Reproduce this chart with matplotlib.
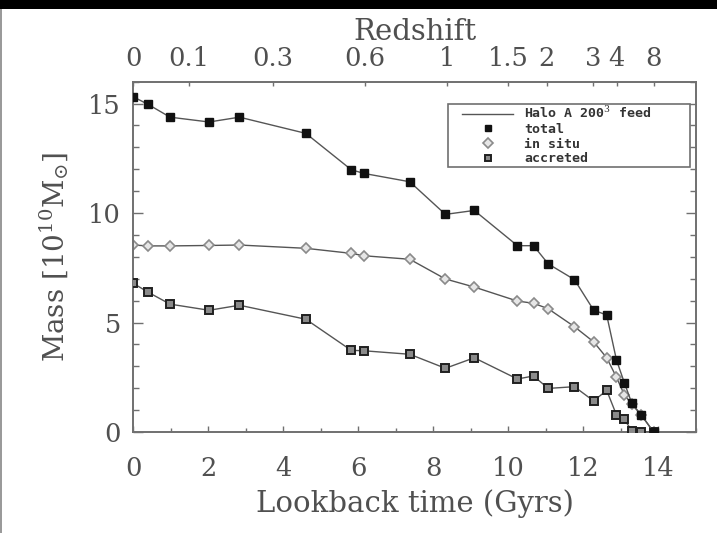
import matplotlib
matplotlib.use('Agg')
import matplotlib.pyplot as plt
from matplotlib.lines import Line2D
from matplotlib.patches import Rectangle
from matplotlib.ticker import MultipleLocator

####################
# DATA
####################

# Lookback time of each snapshot (Gyr)
t_lookback = [0.0, 0.40, 0.98, 2.02, 2.83, 4.60, 5.81, 6.15, 7.37, 8.32, 9.09,
              10.24, 10.67, 11.06, 11.76, 12.27, 12.62, 12.88, 13.09, 13.29,
              13.54, 13.87]

# Stellar mass in units of 1e10 Msun
mass_total = [15.31, 14.96, 14.38, 14.16, 14.38, 13.64, 11.98, 11.81, 11.43,
              9.94, 10.12, 8.51, 8.51, 7.68, 6.96, 5.57, 5.34, 3.29, 2.25,
              1.31, 0.78, 0.0]
mass_insitu = [8.54, 8.50, 8.50, 8.52, 8.54, 8.39, 8.16, 8.05, 7.89, 6.99,
               6.62, 5.98, 5.88, 5.63, 4.81, 4.12, 3.39, 2.50, 1.70, 1.26,
               0.78, 0.0]
mass_accreted = [6.79, 6.38, 5.84, 5.56, 5.79, 5.15, 3.73, 3.71, 3.55, 2.91,
                 3.39, 2.42, 2.56, 1.99, 2.07, 1.42, 1.90, 0.78, 0.58, 0.05,
                 0.0, 0.0]

# Redshift labels for the top axis and their lookback times (Gyr)
z_labels = ['0', '0.1', '0.3', '0.6', '1', '1.5', '2', '3', '4', '8']
z_lookback = [0.0, 1.49, 3.73, 6.18, 8.36, 9.99, 11.02, 12.25, 12.89, 13.87]

legend_labels = ['Halo A 200$^3$ feed', 'total', 'in situ', 'accreted']

####################
# STYLE
####################
txtcol = '#505050'
axcol = '#707070'
linecol = '#555555'
plt.rcParams['font.family'] = 'DejaVu Serif'
plt.rcParams['mathtext.fontset'] = 'dejavuserif'
fs_tick = 18.5
fs_label = 21

####################
# PLOT
####################
fig = plt.figure(figsize=(7.17, 5.33), dpi=100)
ax = fig.add_axes([0.1859, 0.1895, 0.7848, 0.6572])

# black strip along the top and thin border on the left
fig.patches.append(Rectangle((0, 0.983), 1, 0.017, transform=fig.transFigure,
                             facecolor='black', edgecolor='none', zorder=5))
fig.patches.append(Rectangle((0, 0), 0.0025, 0.983, transform=fig.transFigure,
                             facecolor='#9a9a9a', edgecolor='none', zorder=5))

ax.plot(t_lookback, mass_insitu, color=linecol, lw=1.0, marker='D', ms=5.5,
        mfc='#e6e6e6', mec='#8a8a8a', mew=1.2, zorder=2)
ax.plot(t_lookback, mass_accreted, color=linecol, lw=1.0, marker='s', ms=5.5,
        mfc='#8a8a8a', mec='#202020', mew=1.4, zorder=3)
ax.plot(t_lookback, mass_total, color=linecol, lw=1.0, marker='s', ms=6,
        mfc='#111111', mec='#111111', zorder=4)

ax.set_xlim(0, 15)
ax.set_ylim(0, 16)
ax.xaxis.set_major_locator(MultipleLocator(2))
ax.xaxis.set_minor_locator(MultipleLocator(1))
ax.yaxis.set_major_locator(MultipleLocator(5))
ax.yaxis.set_minor_locator(MultipleLocator(1))
ax.tick_params(which='both', direction='in', top=False, right=True,
               colors=axcol, labelcolor=txtcol, labelsize=fs_tick)
ax.tick_params(axis='x', which='major', length=4, width=1, pad=17)
ax.tick_params(axis='x', which='minor', length=3, width=1)
ax.tick_params(axis='y', which='major', length=7, width=1, pad=9)
ax.tick_params(axis='y', which='minor', length=4, width=1)
for sp in ax.spines.values():
    sp.set_color(axcol)
    sp.set_linewidth(1.4)

ax.set_xlabel('Lookback time (Gyrs)', fontsize=fs_label, color=txtcol,
              labelpad=6)
ax.set_ylabel(r'Mass [10$^{10}$M$_{\odot}$]', fontsize=20, color=txtcol,
              labelpad=12)

# redshift axis along the top
axz = ax.twiny()
axz.set_xlim(ax.get_xlim())
axz.set_xticks(z_lookback)
axz.set_xticklabels(z_labels)
axz.tick_params(direction='in', length=3, width=1, pad=8, colors=axcol,
                labelcolor=txtcol, labelsize=fs_tick)
for sp in axz.spines.values():
    sp.set_visible(False)
axz.set_xlabel('Redshift', fontsize=fs_label, color=txtcol, labelpad=4)

# legend: frame drawn separately so the inner padding can be wider sideways
ax.add_patch(Rectangle((0.559, 0.7565), 0.430, 0.1795,
                       transform=ax.transAxes, facecolor='white',
                       edgecolor=axcol, lw=1.2, zorder=5))
handles = [Line2D([], [], color=linecol, lw=1.0),
           Line2D([], [], ls='none', marker='s', ms=5, mfc='#111111',
                  mec='#111111'),
           Line2D([], [], ls='none', marker='D', ms=5, mfc='#e6e6e6',
                  mec='#8a8a8a', mew=1.2),
           Line2D([], [], ls='none', marker='s', ms=5, mfc='#8a8a8a',
                  mec='#202020', mew=1.4)]
leg = ax.legend(handles, legend_labels, loc='upper left',
                bbox_to_anchor=(0.584, 0.932), borderaxespad=0,
                prop={'family': 'DejaVu Sans Mono', 'weight': 'bold',
                      'size': 9.5},
                handlelength=3.9, handletextpad=0.8, labelspacing=0.12,
                borderpad=0, frameon=False)
leg.set_zorder(6)
for t in leg.get_texts():
    t.set_color('#333333')

fig.savefig('out.png', dpi=100, facecolor='white')
